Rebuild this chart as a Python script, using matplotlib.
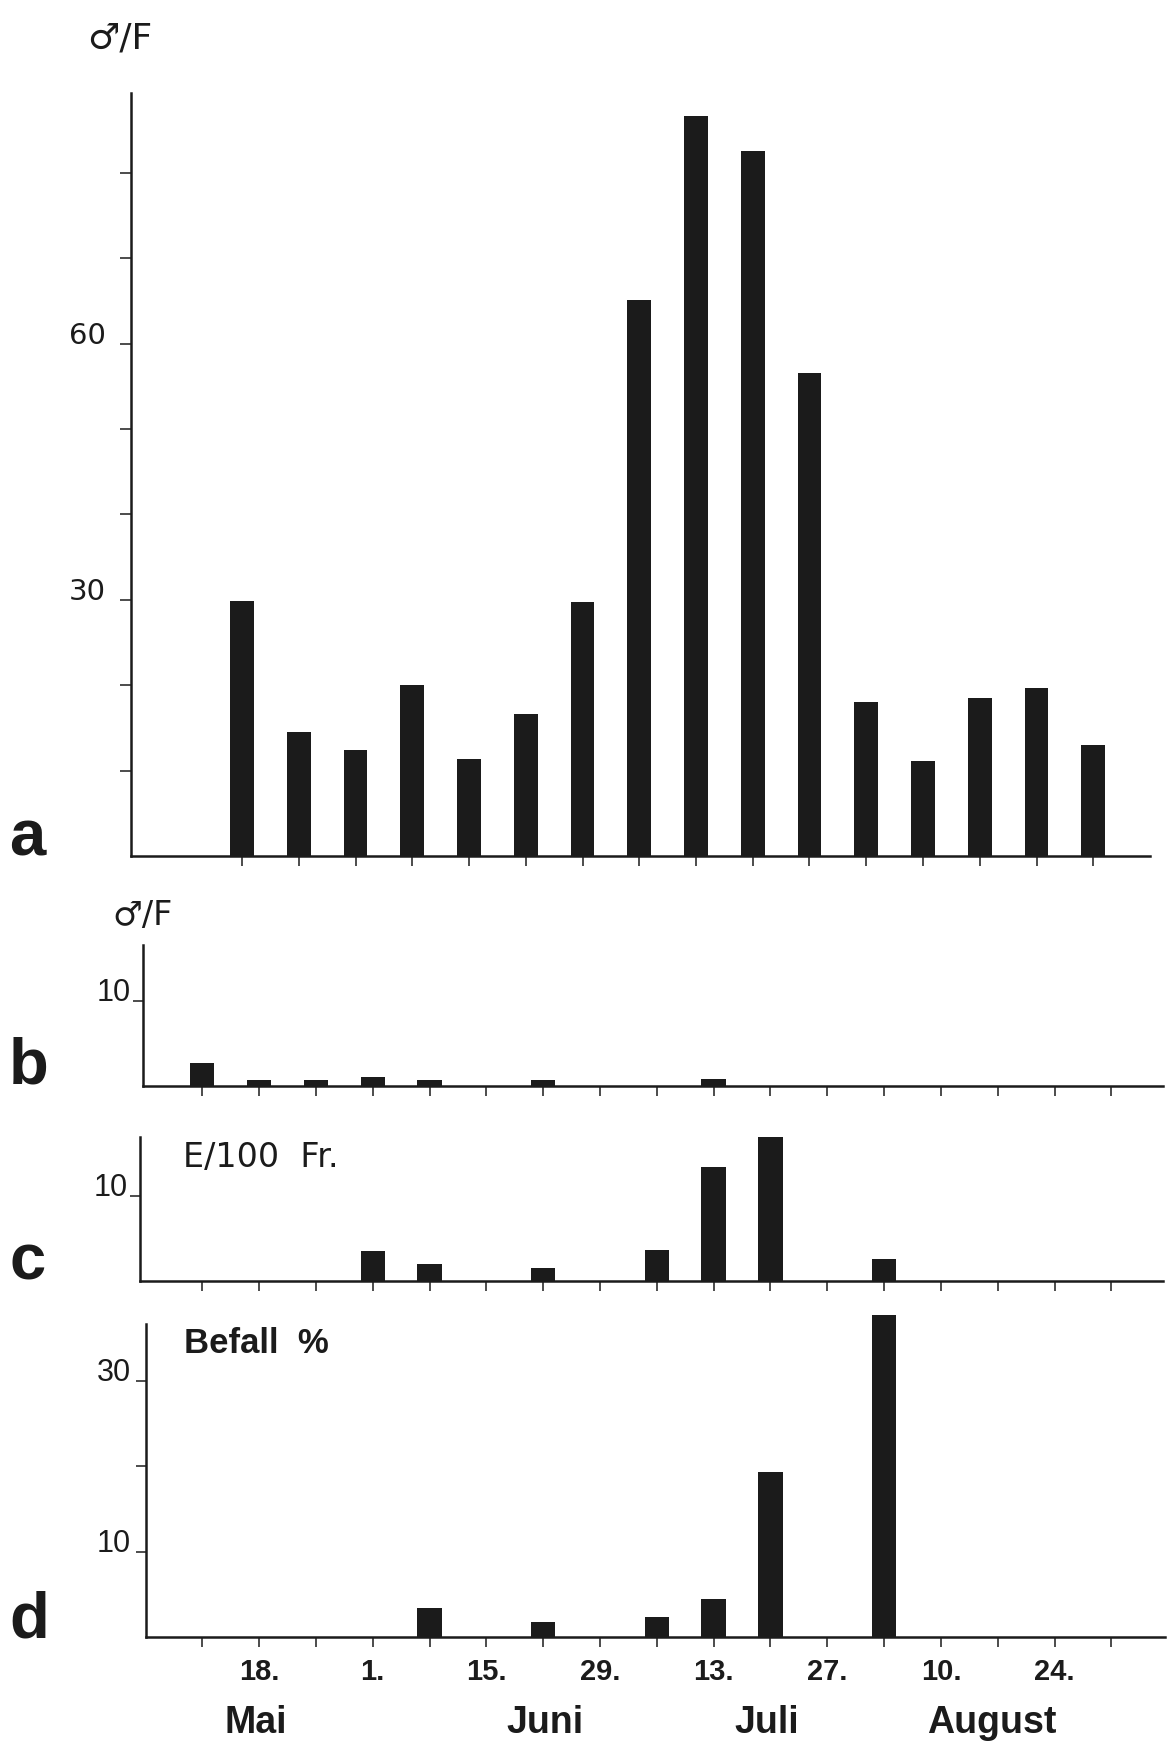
import matplotlib
matplotlib.use("Agg")
import matplotlib.pyplot as plt
from matplotlib.transforms import blended_transform_factory

# ---------------- data ----------------
# panel a: males per trap, weekly samples (sample index 1..16)
samples_a = list(range(1, 17))
males_a = [29.9, 14.5, 12.4, 20.0, 11.3, 16.6, 29.7, 65.1, 86.6, 82.5,
           56.5, 18.0, 11.1, 18.5, 19.7, 13.0]

# panels b-d: x = day counted from 1 May (11 May = 10)
dates_b = [10, 17, 24, 31, 38, 52, 73]
males_b = [2.7, 0.7, 0.7, 1.1, 0.7, 0.7, 0.8]

dates_c = [31, 38, 52, 66, 73, 80, 94]
eggs_c = [3.5, 2.0, 1.5, 3.6, 13.4, 18.5, 2.6]

dates_d = [38, 52, 66, 73, 80, 94]
befall_d = [3.4, 1.7, 2.4, 4.5, 19.3, 37.7]

week_ticks = list(range(10, 123, 7))
day_labels = ["", "18.", "", "1.", "", "15.", "", "29.", "",
              "13.", "", "27.", "", "10.", "", "24.", ""]
months = ["Mai", "Juni", "Juli", "August"]
month_days = [16.6, 52.2, 79.5, 107.3]

yt_a = [10, 20, 30, 40, 50, 60, 70, 80]
yl_a = ["", "", "30", "", "", "60", "", ""]
yt_d = [10, 20, 30]
yl_d = ["10", "", "30"]

# ---------------- layout ----------------
W, H = 1169, 1743
DPI = 100
INK = "#1b1b1b"
fig = plt.figure(figsize=(W / DPI, H / DPI), dpi=DPI, facecolor="white")

PX_DAY = 8.118
X0_PX = 202.2  # pixel of day 10


def px2day(px):
    return 10 + (px - X0_PX) / PX_DAY


def make_ax(left, right, base, ymax, ppu):
    h = ymax * ppu
    return fig.add_axes([left / W, (H - base) / H, (right - left) / W, h / H])


def style(ax, ylen, ypad, lw=1.8):
    for s in ("top", "right"):
        ax.spines[s].set_visible(False)
    for s in ("left", "bottom"):
        ax.spines[s].set_linewidth(lw)
        ax.spines[s].set_color(INK)
    ax.tick_params(axis="x", direction="out", length=7, width=1.1, color=INK,
                   pad=8)
    ax.tick_params(axis="y", direction="out", length=ylen, width=1.1,
                   color=INK, pad=ypad)
    ax.set_facecolor("none")


SANS = ["Liberation Sans", "DejaVu Sans"]
num_font = dict(family=SANS, size=22, color=INK)

# ---- panel a ----
ppu_a = 8.54
ymax_a = 89.4
ax_a = make_ax(131, 1150, 856, ymax_a, ppu_a)
ax_a.bar(samples_a, males_a, width=0.42, color=INK)
ax_a.set_xlim(1 + (131 - 242) / 56.75, 1 + (1150 - 242) / 56.75)
ax_a.set_ylim(0, ymax_a)
style(ax_a, 8, 10)
ax_a.set_xticks(samples_a)
ax_a.set_xticklabels([])
ax_a.set_yticks(yt_a)
ax_a.set_yticklabels(yl_a, fontsize=21, family="DejaVu Sans", color=INK)
for lab in ax_a.get_yticklabels():
    lab.set_va("baseline")

# ---- panel b ----
ppu = 8.52
ax_b = make_ax(143, 1163, 1086, 16.6, ppu)
ax_b.bar(dates_b, males_b, width=3.0, color=INK)
ax_b.set_xlim(px2day(143), px2day(1163))
ax_b.set_ylim(0, 16.6)
style(ax_b, 7, 2)
ax_b.set_xticks(week_ticks)
ax_b.set_xticklabels([])
ax_b.set_yticks([10])
ax_b.set_yticklabels(["10"], **num_font)
for lab in ax_b.get_yticklabels():
    lab.set_va("baseline")

# ---- panel c ----
ax_c = make_ax(140, 1163, 1281, 16.9, ppu)
ax_c.bar(dates_c, eggs_c, width=3.0, color=INK)
ax_c.set_xlim(px2day(140), px2day(1163))
ax_c.set_ylim(0, 16.9)
style(ax_c, 7, 2)
ax_c.set_xticks(week_ticks)
ax_c.set_xticklabels([])
ax_c.set_yticks([10])
ax_c.set_yticklabels(["10"], **num_font)
for lab in ax_c.get_yticklabels():
    lab.set_va("baseline")

# ---- panel d ----
ppu_d = 8.533
ymax_d = 38.3
ax_d = make_ax(146, 1165, 1637, ymax_d, ppu_d)
ax_d.bar(dates_d, befall_d, width=3.0, color=INK)
ax_d.set_xlim(px2day(146), px2day(1165))
ax_d.set_ylim(0, ymax_d)
style(ax_d, 7, 4)
ax_d.spines["left"].set_bounds(0, 36.7)
ax_d.set_xticks(week_ticks)
ax_d.set_xticklabels(day_labels, family=SANS, fontsize=21, fontweight="bold",
                     color=INK)
ax_d.set_yticks(yt_d)
ax_d.set_yticklabels(yl_d, **num_font)
for lab in ax_d.get_yticklabels():
    lab.set_va("baseline")

tr = blended_transform_factory(ax_d.transData, fig.transFigure)
for m, d in zip(months, month_days):
    ax_d.text(d, (H - 1733) / H, m, transform=tr, ha="center", va="baseline",
              family=SANS, fontweight="bold", fontsize=27, color=INK)

# ---- panel letters & labels ----
letter_font = dict(family=SANS, fontweight="bold",
                   fontsize=47, color=INK, ha="left", va="baseline")
for letter, base in zip(["a", "b", "c", "d"], [856, 1084, 1280, 1637]):
    fig.text(9 / W, (H - base) / H, letter, **letter_font)

lab_font = dict(family="DejaVu Sans", color=INK, va="baseline", ha="center")
fig.text(120 / W, (H - 48) / H, "\u2642/F", fontsize=26, **lab_font)
fig.text(143 / W, (H - 925) / H, "\u2642/F", fontsize=24, **lab_font)

fig.text(183 / W, (H - 1167) / H, "E/100  Fr.", family="DejaVu Sans",
         fontsize=24, color=INK, ha="left", va="baseline")
fig.text(184 / W, (H - 1353) / H, "Befall  %", family=SANS,
         fontweight="bold", fontsize=25, color=INK, ha="left", va="baseline")

fig.savefig("out.png", dpi=DPI, facecolor="white")
